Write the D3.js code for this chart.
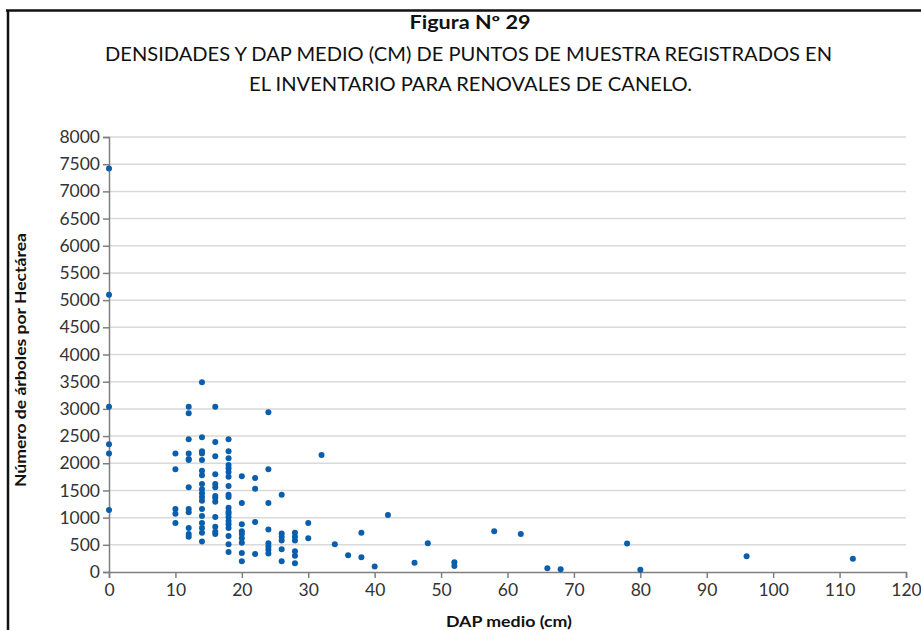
<!DOCTYPE html>
<html>
<head>
<meta charset="utf-8">
<script src="https://cdn.jsdelivr.net/npm/d3@7"></script>
<style>
  body { margin: 0; background: #fff; }
  svg { display: block; font-family: Lato, "Open Sans", sans-serif; }
</style>
</head>
<body>
<svg id="chart" width="921" height="630"></svg>
<script>
// DAP medio (cm) and density (trees/ha) for each sample point
const dapValues = [
  0,0,0,0,0,0,
  10,10,10,10,10,
  12,12,12,12,12,12,12,12,12,12,12,12,
  14,14,14,14,14,14,14,14,14,14,14,14,14,14,14,14,14,14,
  16,16,16,16,16,16,16,16,16,16,16,16,16,
  18,18,18,18,18,18,18,18,18,18,18,18,18,18,18,18,18,18,18,18,
  20,20,20,20,20,20,20,20,20,
  22,22,22,22,
  24,24,24,24,24,24,24,24,
  26,26,26,26,26,26,
  28,28,28,28,28,28,
  30,30,32,34,36,38,38,40,42,46,48,52,52,58,62,66,68,78,80,96,112
];
const densityValues = [
  7420,5100,3040,2350,2180,1140,
  2180,1890,1160,1070,900,
  3040,2920,2440,2180,2080,2060,1560,1160,1100,810,700,650,
  3490,2480,2220,2180,2060,1860,1780,1620,1520,1450,1380,1310,1160,1030,900,810,720,560,
  3040,2390,2130,1800,1620,1560,1400,1360,1290,1010,830,740,700,
  2440,2220,2090,1970,1910,1840,1750,1580,1420,1380,1180,1110,1070,1010,940,880,810,660,510,370,
  1760,1270,880,750,700,620,540,350,200,
  1730,1530,920,330,
  2940,1890,1270,780,530,470,410,340,
  1420,710,650,580,420,200,
  720,650,580,380,300,160,
  900,620,2150,510,310,720,270,100,1050,170,530,180,110,750,700,70,50,525,40,290,245
];
const xTicks = [0,10,20,30,40,50,60,70,80,90,100,110,120];
const yTicks = [0,500,1000,1500,2000,2500,3000,3500,4000,4500,5000,5500,6000,6500,7000,7500,8000];
const titleLines = [
  "Figura Nº 29",
  "DENSIDADES Y DAP MEDIO (CM) DE PUNTOS DE MUESTRA REGISTRADOS EN",
  "EL INVENTARIO PARA RENOVALES DE CANELO."
];
const xLabel = "DAP medio (cm)";
const yLabel = "Número de árboles por Hectárea";

const data = dapValues.map((d, i) => ({ x: d, y: densityValues[i] }));

const svg = d3.select("#chart");
const plotLeft = 109, plotRight = 906, plotTop = 137, plotBottom = 572;

// frame
svg.append("line").attr("x1", 6).attr("x2", 921).attr("y1", 10.5).attr("y2", 10.5)
  .attr("stroke", "#111").attr("stroke-width", 2.5);
svg.append("line").attr("x1", 8).attr("x2", 8).attr("y1", 10).attr("y2", 630)
  .attr("stroke", "#111").attr("stroke-width", 2.5);

const x = d3.scaleLinear().domain([0, 120]).range([plotLeft, plotRight]);
const y = d3.scaleLinear().domain([0, 8000]).range([plotBottom, plotTop]);

// gridlines
svg.append("g").selectAll("line").data(yTicks.filter(t => t > 0)).join("line")
  .attr("x1", plotLeft).attr("x2", plotRight)
  .attr("y1", d => y(d)).attr("y2", d => y(d))
  .attr("stroke", "#d9d9d9").attr("stroke-width", 1.5);

// y axis
const yAxis = svg.append("g").attr("transform", `translate(${plotLeft},0)`)
  .call(d3.axisLeft(y).tickValues(yTicks).tickFormat(d3.format("d")).tickSize(6).tickPadding(3));
yAxis.select(".domain").attr("stroke", "#7f7f7f").attr("stroke-width", 1.5);
yAxis.selectAll(".tick line").attr("stroke", "#7f7f7f").attr("stroke-width", 1.5);
yAxis.selectAll("text").attr("font-size", 17.5).attr("fill", "#333")
  .attr("font-family", "Lato, sans-serif");

// x axis
const xAxis = svg.append("g").attr("transform", `translate(0,${plotBottom})`)
  .call(d3.axisBottom(x).tickValues(xTicks).tickFormat(d3.format("d")).tickSize(6).tickPadding(6));
xAxis.select(".domain").attr("stroke", "#7f7f7f").attr("stroke-width", 1.5);
xAxis.selectAll(".tick line").attr("stroke", "#7f7f7f").attr("stroke-width", 1.5);
xAxis.selectAll("text").attr("font-size", 17.5).attr("fill", "#333")
  .attr("font-family", "Lato, sans-serif");

// points
svg.append("g").selectAll("circle").data(data).join("circle")
  .attr("cx", d => x(d.x)).attr("cy", d => y(d.y)).attr("r", 3)
  .attr("fill", "#0a5eab");

// titles
svg.append("text").attr("x", 470).attr("y", 29).attr("text-anchor", "middle")
  .attr("font-size", 18).attr("font-weight", "bold").attr("fill", "#111")
  .attr("textLength", 121).attr("lengthAdjust", "spacingAndGlyphs")
  .text(titleLines[0]);
svg.append("text").attr("x", 468.5).attr("y", 61).attr("text-anchor", "middle")
  .attr("font-size", 19).attr("fill", "#111")
  .attr("textLength", 727).attr("lengthAdjust", "spacingAndGlyphs")
  .text(titleLines[1]);
svg.append("text").attr("x", 470.5).attr("y", 91).attr("text-anchor", "middle")
  .attr("font-size", 19).attr("fill", "#111")
  .attr("textLength", 443).attr("lengthAdjust", "spacingAndGlyphs")
  .text(titleLines[2]);

// axis labels
svg.append("text").attr("transform", "translate(26,360) rotate(-90)")
  .attr("text-anchor", "middle").attr("font-size", 16).attr("font-weight", "bold").attr("fill", "#111")
  .attr("textLength", 254).attr("lengthAdjust", "spacingAndGlyphs")
  .text(yLabel);
svg.append("text").attr("x", 509).attr("y", 627).attr("text-anchor", "middle")
  .attr("font-size", 16).attr("font-weight", "bold").attr("fill", "#111")
  .attr("textLength", 126).attr("lengthAdjust", "spacingAndGlyphs")
  .text(xLabel);
</script>
</body>
</html>
